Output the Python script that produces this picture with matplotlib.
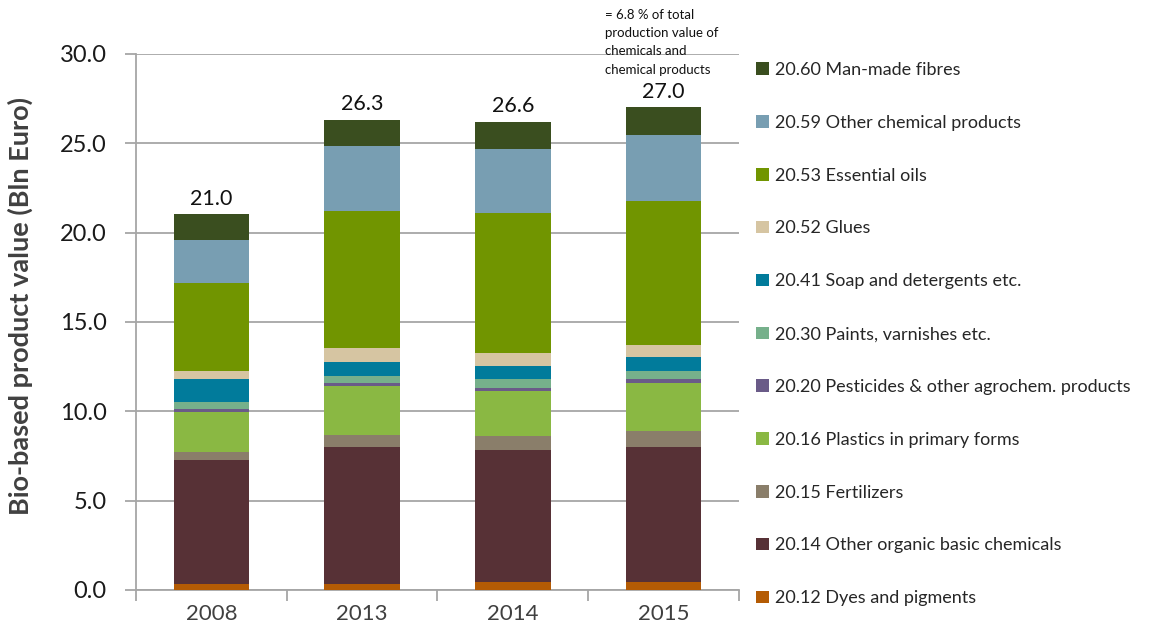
import numpy as np
import matplotlib
matplotlib.use('Agg')
import matplotlib.pyplot as plt
from matplotlib.patches import Patch

plt.rcParams['font.family'] = ['Lato', 'DejaVu Sans']

# data (Bln Euro)
years = ['2008', '2013', '2014', '2015']
totals = ['21.0', '26.3', '26.6', '27.0']

categories = ['20.12 Dyes and pigments',
              '20.14 Other organic basic chemicals',
              '20.15 Fertilizers',
              '20.16 Plastics in primary forms',
              '20.20 Pesticides & other agrochem. products',
              '20.30 Paints, varnishes etc.',
              '20.41 Soap and detergents etc.',
              '20.52 Glues',
              '20.53 Essential oils',
              '20.59 Other chemical products',
              '20.60 Man-made fibres']

dyes       = [0.34, 0.36, 0.45, 0.45]
organic    = [6.92, 7.66, 7.40, 7.57]
fertil     = [0.46, 0.67, 0.75, 0.86]
plastics   = [2.24, 2.71, 2.52, 2.70]
pesticides = [0.19, 0.18, 0.18, 0.21]
paints     = [0.39, 0.40, 0.49, 0.47]
soap       = [1.25, 0.76, 0.76, 0.78]
glues      = [0.46, 0.79, 0.70, 0.67]
ess_oils   = [4.91, 7.68, 7.85, 8.06]
other_chem = [2.43, 3.65, 3.58, 3.67]
man_made   = [1.43, 1.44, 1.53, 1.57]

series = [dyes, organic, fertil, plastics, pesticides, paints, soap,
          glues, ess_oils, other_chem, man_made]
colors = ['#b45b04', '#573136', '#8a7e6a', '#8ab843', '#6a5b88', '#76b08b',
          '#017b9b', '#d6c5a2', '#719500', '#789eb2', '#3a4e1f']

fig = plt.figure(figsize=(11.62, 6.39), dpi=100)
ax = fig.add_axes([0.117, 0.0767, 0.519, 0.839])

x = np.arange(len(years))
bottom = np.zeros(len(years))
for vals, col in zip(series, colors):
    ax.bar(x, vals, 0.5, bottom=bottom, color=col, edgecolor='none', zorder=3)
    bottom += np.array(vals)

for xi, top, lab in zip(x, bottom, totals):
    ax.annotate(lab, (xi, top), xytext=(0, 4), textcoords='offset points',
                ha='center', va='bottom', fontsize=15.5, color='#111111')

ax.set_xlim(-0.5, 3.5)
ax.set_ylim(0, 30)
ax.set_yticks(np.arange(0, 31, 5))
ax.set_yticklabels(['%.1f' % v for v in np.arange(0, 31, 5)])
ax.set_xticks(x)
ax.set_xticklabels(years)
ax.set_xticks(np.arange(-0.5, 4, 1), minor=True)
ax.tick_params(axis='x', which='major', length=0, pad=10, labelsize=16,
               labelcolor='#404040')
ax.tick_params(axis='x', which='minor', length=8, color='#a6a6a6', width=1.3)
ax.tick_params(axis='y', length=8, color='#a6a6a6', width=1.3, labelsize=17,
               labelcolor='#1a1a1a', pad=13)
ax.grid(axis='y', color='#a6a6a6', linewidth=1.3, zorder=0)
for s in ['top', 'right']:
    ax.spines[s].set_visible(False)
for s in ['left', 'bottom']:
    ax.spines[s].set_color('#a6a6a6')
    ax.spines[s].set_linewidth(1.3)

ax.set_ylabel('Bio-based product value (Bln Euro)', fontsize=19.5,
              fontweight='bold', color='#404040')
ax.yaxis.set_label_coords(-0.171, 0.53)

fig.text(0.5207, 0.986, '= 6.8 % of total\nproduction value of\nchemicals and\nchemical products',
         ha='left', va='top', fontsize=9.5, linespacing=1.62, color='#111111')

handles = [Patch(facecolor=c, edgecolor='none') for c in colors]
fig.legend(handles[::-1], categories[::-1], loc='upper left',
           bbox_to_anchor=(0.651, 0.903), frameon=False, fontsize=13,
           handlelength=0.7, handleheight=0.7, handletextpad=0.35,
           labelspacing=2.04, borderpad=0, borderaxespad=0, labelcolor='#262626')

fig.savefig('out.png', dpi=100)
